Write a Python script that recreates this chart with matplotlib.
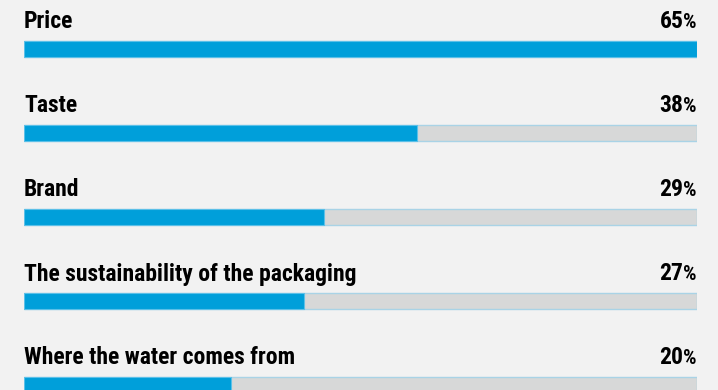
import matplotlib
matplotlib.use("Agg")
import matplotlib.pyplot as plt
from matplotlib import font_manager
from matplotlib.transforms import offset_copy

categories = ["Price", "Taste", "Brand", "The sustainability of the packaging", "Where the water comes from"]
values = [65, 38, 29, 27, 20]

names = {f.name for f in font_manager.fontManager.ttflist}
fam = [f for f in ["Roboto Condensed", "Fira Sans Condensed", "Asap Condensed", "Open Sans", "DejaVu Sans"] if f in names]
plt.rcParams["font.family"] = fam

bg = "#f2f2f2"
blue = "#009fda"
grey = "#d7d8d8"
edge = "#a9d3e6"

W, H = 718, 390
fig = plt.figure(figsize=(W / 100, H / 100), dpi=100, facecolor=bg)
ax = fig.add_axes([24 / W, 0, (697 - 24) / W, 1])
ax.set_facecolor(bg)
vmax = max(values)
sp = 84.0
top = 49.0
ax.set_xlim(0, vmax)
ax.set_ylim((H - top) / sp, -top / sp)
ax.axis("off")

# fit font size so the longest label has the reference width (~333 px)
probe = fig.text(0, 0, categories[3], fontsize=16, fontweight="bold")
fig.canvas.draw()
fs = 16 * 333.0 / probe.get_window_extent().width
fs = max(13, min(fs, 18))
probe.remove()

h = 16 / sp
for i, (c, v) in enumerate(zip(categories, values)):
    ax.barh(i, vmax, height=h, left=0, color=grey, edgecolor=edge, linewidth=1, zorder=1)
    ax.barh(i, v, height=h, left=0, color=blue, edgecolor="#5bc0e8", linewidth=0.8, zorder=2)
    ly = i - 20.5 / sp
    ax.text(0, ly, c, fontsize=fs, fontweight="bold", ha="left", va="baseline", color="#000000")
    pt = ax.text(vmax, ly, "%", fontsize=fs * 0.9, fontweight="bold", ha="right", va="baseline", color="#000000")
    fig.canvas.draw()
    wpx = pt.get_window_extent().width
    tr = offset_copy(ax.transData, fig=fig, x=-wpx, y=0, units="dots")
    ax.text(vmax, ly, str(v), fontsize=fs, fontweight="bold", ha="right", va="baseline", color="#000000", transform=tr)

fig.savefig("out.png", dpi=100, facecolor=bg)
